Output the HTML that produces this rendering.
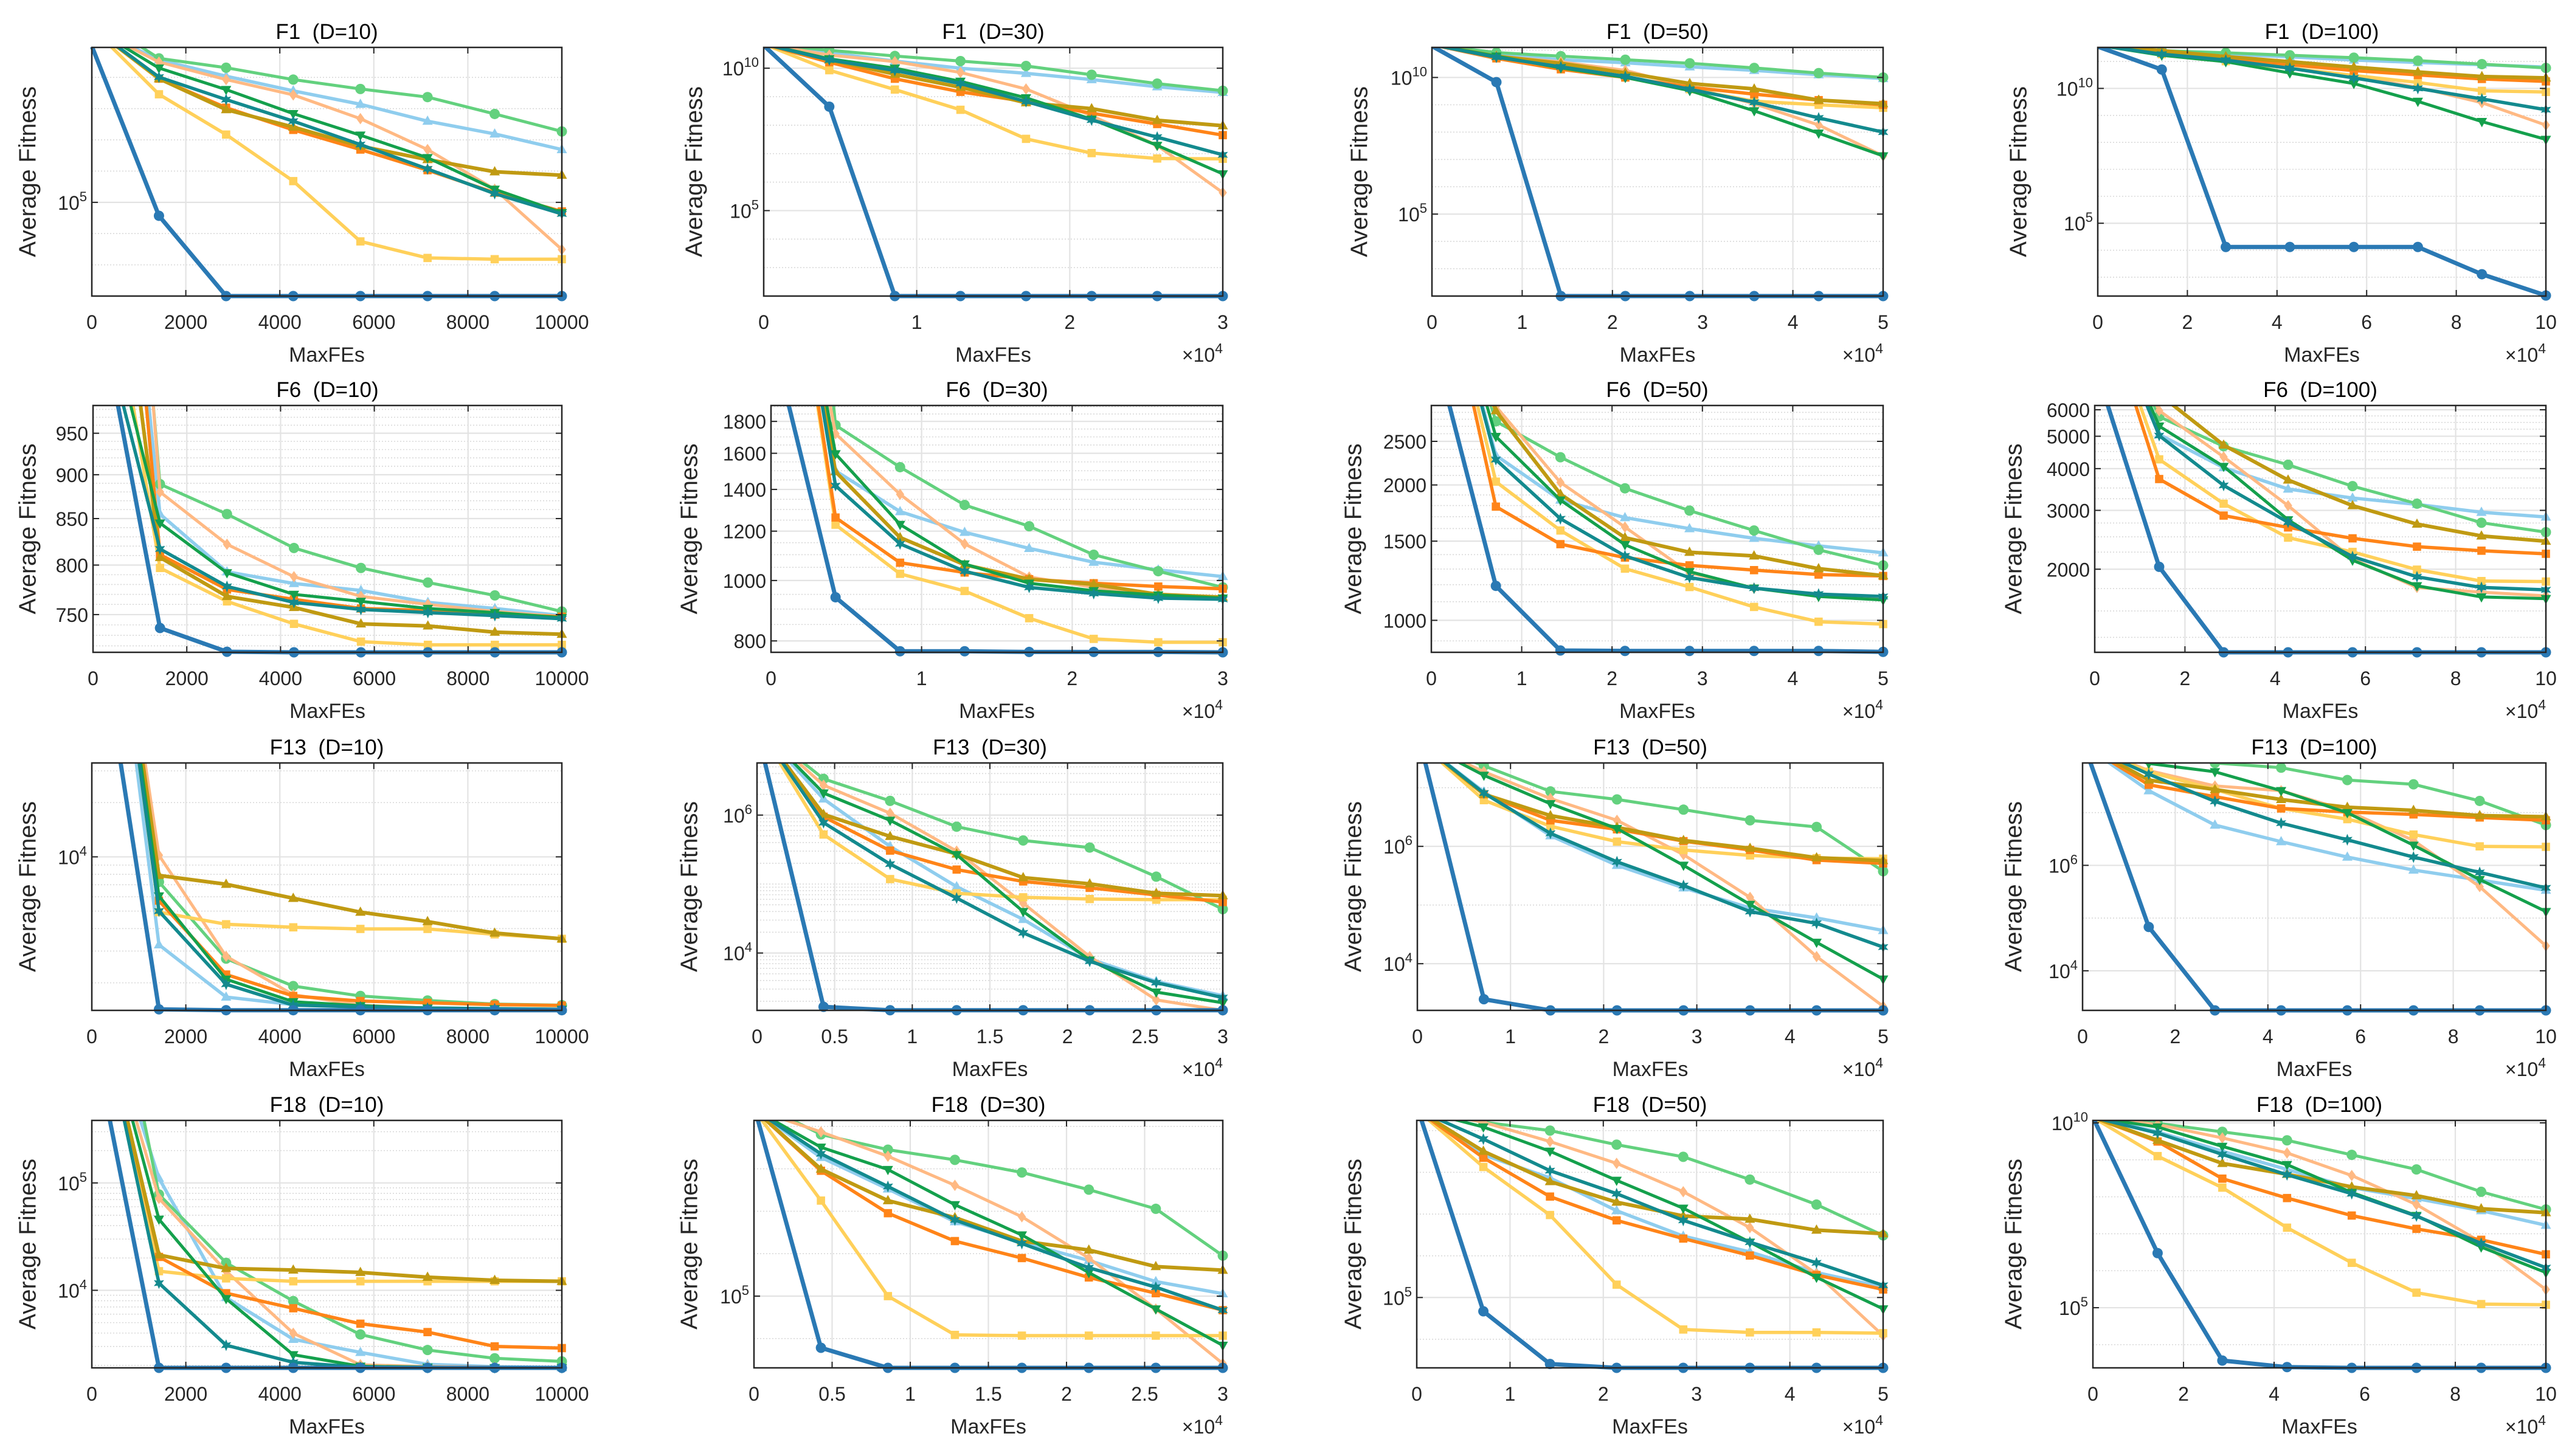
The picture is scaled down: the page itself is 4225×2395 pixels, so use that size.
<!DOCTYPE html>
<html><head><meta charset="utf-8"><title>Convergence curves</title>
<style>
html,body{margin:0;padding:0;background:#fff;}
svg{display:block;font-family:"Liberation Sans",Arial,sans-serif;}
</style></head>
<body>
<svg id="fig" xmlns="http://www.w3.org/2000/svg" width="4225" height="2395" viewBox="0 0 4225 2395">
<rect x="0" y="0" width="4225" height="2395" fill="#ffffff"/>
</svg>
<script>
// ---------- chart data ----------
const panelTitles = ["F1  (D=10)","F1  (D=30)","F1  (D=50)","F1  (D=100)",
 "F6  (D=10)","F6  (D=30)","F6  (D=50)","F6  (D=100)",
 "F13  (D=10)","F13  (D=30)","F13  (D=50)","F13  (D=100)",
 "F18  (D=10)","F18  (D=30)","F18  (D=50)","F18  (D=100)"];
const seriesNames = ["s1-blue","s2-orange","s3-yellow","s4-peach","s5-lightgreen","s6-lightblue","s7-gold","s8-green","s9-teal"];
const xMaxByCol = [10000, 30000, 50000, 100000];
const colXTickLabels1 = ["0","2000","4000","6000","8000","10000"];
const colXTickValues1 = [0,2000,4000,6000,8000,10000];
const xTicksD30Coarse = [0,1,2,3];
const xTicksD30Fine = [0,0.5,1,1.5,2,2.5,3];
const xTicksD50 = [0,1,2,3,4,5];
const xTicksD100 = [0,2,4,6,8,10];
const yLimsF1 = [[2,9.96],[2,10.73],[2,11.1],[2.3,11.52]];
const yLimsF6 = [[714,985],[767,1909],[849,3004],[1128,6180]];
const yLimsF13 = [[3.148,4.521],[3.168,6.756],[3.204,7.422],[3.249,7.942]];
const yLimsF18 = [[3.278,5.582],[3.31,9.14],[3.314,9.244],[3.373,10.066]];
const yTicksF1 = [[5,10],[5,10],[5,10],[5,10]];
const yTicksF6 = [[750,800,850,900,950],[800,1000,1200,1400,1600,1800],[1000,1500,2000,2500],[2000,3000,4000,5000,6000]];
const yTicksF13 = [[4],[4,6],[4,6],[4,6]];
const yTicksF18 = [[4,5],[5],[5],[5,10]];

const f1d10 = [
 [10.0,4.57,2,2,2,2,2,2],
 [10.6,8.96,8.03,7.32,6.69,6.03,5.31,4.71],
 [10.6,8.46,7.17,5.68,3.75,3.22,3.18,3.18],
 [10.6,9.49,8.93,8.44,7.68,6.69,5.42,3.49],
 [11.0,9.61,9.31,8.93,8.63,8.37,7.83,7.27],
 [10.6,9.56,9.04,8.57,8.14,7.60,7.19,6.69],
 [10.6,8.96,7.97,7.41,6.80,6.37,5.98,5.87],
 [10.6,9.30,8.61,7.84,7.15,6.43,5.42,4.67],
 [10.6,9.01,8.29,7.60,6.85,6.07,5.28,4.63]];
const f1d30 = [
 [10.8,8.65,2,2,2,2,2,2],
 [10.85,10.21,9.63,9.17,8.83,8.42,8.04,7.65],
 [10.85,9.93,9.25,8.54,7.52,7.02,6.83,6.82],
 [10.85,10.46,10.23,9.85,9.27,8.33,7.29,5.63],
 [10.85,10.63,10.43,10.25,10.08,9.77,9.46,9.21],
 [10.85,10.54,10.25,10.0,9.82,9.6,9.35,9.15],
 [10.85,10.29,9.79,9.33,8.79,8.58,8.17,7.98],
 [10.85,10.33,10.0,9.54,8.96,8.21,7.29,6.29],
 [10.85,10.29,9.92,9.46,8.83,8.18,7.58,6.96]];
const f1d50 = [
 [11.15,9.83,2,2,2,2,2,2],
 [11.2,10.70,10.30,10.0,9.65,9.39,9.17,9.0],
 [11.2,10.74,10.43,10.0,9.57,9.13,9.0,8.89],
 [11.2,10.78,10.57,10.26,9.65,9.04,8.26,7.13],
 [11.2,10.91,10.78,10.65,10.52,10.35,10.16,10.0],
 [11.2,10.83,10.65,10.54,10.39,10.26,10.10,9.96],
 [11.2,10.78,10.52,10.17,9.78,9.58,9.17,9.04],
 [11.2,10.78,10.35,10.0,9.52,8.78,7.96,7.13],
 [11.2,10.74,10.39,10.04,9.57,9.09,8.52,8.0]];
const f1d100 = [
 [11.55,10.70,4.12,4.12,4.12,4.12,3.11,2.32],
 [11.6,11.32,11.10,10.88,10.66,10.50,10.35,10.26],
 [11.6,11.27,11.01,10.75,10.48,10.22,9.91,9.87],
 [11.6,11.32,11.01,10.75,10.44,10.04,9.47,8.64],
 [11.6,11.40,11.32,11.23,11.14,11.03,10.90,10.76],
 [11.6,11.36,11.27,11.17,11.05,10.96,10.88,10.79],
 [11.6,11.40,11.18,10.99,10.79,10.61,10.44,10.39],
 [11.6,11.23,10.99,10.57,10.18,9.52,8.77,8.11],
 [11.6,11.27,11.05,10.75,10.39,10.0,9.61,9.21]];
const f6d10 = [
 [1170,737,714.5,714,714,714,714,714],
 [2100,811,775,765,756,754,750,748],
 [1350,797,763,741,724,721,721,721],
 [2700,880,822,788,768,760,753,748],
 [2500,889,855,818,797,782,769,753],
 [2000,855,793,781,774,762,756,749],
 [1600,808,768,757,741,739,733,731],
 [1200,845,792,770,763,756,752,747],
 [1150,817,778,762,755,752,749,746]];
const f6d30 = [
 [2500,940,770,770,768,768,768,767],
 [6000,1262,1068,1030,1005,990,978,970],
 [6000,1229,1025,962,870,806,796,796],
 [6000,1720,1375,1145,1013,975,950,937],
 [20000,1775,1520,1322,1222,1100,1035,975],
 [6000,1500,1290,1195,1126,1070,1040,1015],
 [6000,1495,1172,1060,1005,986,950,940],
 [6000,1597,1230,1063,990,963,948,937],
 [6000,1420,1145,1035,975,953,937,933]];
const f6d50 = [
 [4300,1193,857,855,855,855,855,851],
 [8000,1790,1477,1379,1325,1293,1264,1255],
 [8000,2034,1584,1303,1186,1071,993,981],
 [9000,2990,2026,1612,1275,1179,1137,1124],
 [8000,2770,2305,1966,1754,1584,1435,1325],
 [8000,2327,1851,1692,1599,1522,1464,1413],
 [8000,2925,1908,1527,1417,1391,1303,1257],
 [8000,2563,1851,1473,1283,1179,1130,1110],
 [8000,2277,1682,1391,1245,1179,1144,1130]];
const f6d100 = [
 [8200,2033,1128,1128,1128,1128,1128,1128],
 [15000,3723,2894,2667,2474,2336,2272,2224],
 [15000,4264,3141,2486,2253,1994,1843,1837],
 [15000,5963,4335,3100,2146,1764,1707,1665],
 [15000,5725,4666,4107,3545,3141,2755,2581],
 [15000,5063,4027,3475,3266,3126,2961,2866],
 [15000,6680,4705,3698,3100,2729,2515,2426],
 [15000,5362,4060,2810,2128,1784,1652,1633],
 [15000,5022,3562,2764,2181,1898,1764,1735]];
const f13d10 = [
 [5.55,3.154,3.149,3.149,3.149,3.149,3.149,3.149],
 [6.5,3.757,3.347,3.228,3.2,3.19,3.18,3.175],
 [6.5,3.693,3.626,3.609,3.6,3.6,3.57,3.545],
 [6.5,4.009,3.448,3.235,3.177,3.161,3.157,3.154],
 [6.5,3.861,3.435,3.283,3.228,3.203,3.183,3.177],
 [6.5,3.512,3.222,3.18,3.168,3.161,3.157,3.154],
 [6.5,3.897,3.848,3.770,3.693,3.641,3.577,3.545],
 [6.5,3.783,3.321,3.196,3.174,3.161,3.157,3.154],
 [6.5,3.699,3.293,3.177,3.168,3.161,3.157,3.154]];
const f13d30 = [
 [7.24,3.22,3.17,3.17,3.17,3.17,3.17,3.17],
 [7.3,5.976,5.485,5.210,5.038,4.945,4.842,4.739],
 [7.3,5.718,5.072,4.866,4.808,4.783,4.773,4.773],
 [7.3,6.433,6.027,5.478,4.722,3.948,3.320,3.168],
 [7.3,6.526,6.206,5.832,5.632,5.529,5.107,4.636],
 [7.3,6.234,5.546,4.962,4.488,3.914,3.588,3.381],
 [7.3,6.01,5.691,5.436,5.093,5.003,4.866,4.832],
 [7.3,6.320,5.924,5.426,4.601,3.897,3.433,3.278],
 [7.3,5.890,5.289,4.797,4.292,3.88,3.570,3.354]];
const f13d50 = [
 [7.97,3.394,3.204,3.204,3.204,3.204,3.204,3.204],
 [7.8,6.889,6.444,6.291,6.089,5.939,5.766,5.709],
 [7.8,6.788,6.343,6.081,5.939,5.846,5.798,5.790],
 [7.8,7.273,6.816,6.444,5.859,5.131,4.121,3.273],
 [7.8,7.374,6.937,6.80,6.626,6.444,6.331,5.576],
 [7.8,6.929,6.182,5.677,5.293,4.95,4.780,4.566],
 [7.8,6.889,6.525,6.323,6.101,5.968,5.806,5.758],
 [7.8,7.212,6.727,6.303,5.677,5.01,4.364,3.737],
 [7.8,6.909,6.222,5.737,5.333,4.889,4.687,4.283]];
const f13d100 = [
 [8.37,4.831,3.249,3.249,3.249,3.249,3.249,3.249],
 [8.3,7.528,7.303,7.079,7.011,6.966,6.908,6.854],
 [8.3,7.775,7.438,7.079,6.876,6.584,6.360,6.351],
 [8.3,7.798,7.506,7.416,7.034,6.472,5.596,4.472],
 [8.5,8.16,7.942,7.852,7.618,7.537,7.222,6.764],
 [8.3,7.416,6.764,6.449,6.157,5.910,5.721,5.528],
 [8.3,7.618,7.438,7.249,7.101,7.043,6.944,6.921],
 [8.3,7.933,7.775,7.416,6.998,6.382,5.730,5.124],
 [8.3,7.730,7.213,6.8,6.485,6.157,5.865,5.573]];
const f18d10 = [
 [6.43,3.278,3.278,3.278,3.278,3.278,3.278,3.278],
 [7,4.311,3.973,3.833,3.689,3.611,3.478,3.462],
 [7,4.178,4.111,4.084,4.084,4.084,4.084,4.084],
 [7,4.856,4.178,3.6,3.307,3.29,3.285,3.28],
 [8,4.893,4.256,3.9,3.589,3.444,3.367,3.338],
 [7,5.044,3.933,3.544,3.422,3.311,3.289,3.28],
 [7,4.329,4.204,4.189,4.167,4.122,4.093,4.084],
 [7,4.662,3.922,3.4,3.293,3.285,3.28,3.28],
 [7,4.067,3.489,3.329,3.284,3.28,3.28,3.28]];
const f18d30 = [
 [9.48,3.783,3.31,3.31,3.31,3.31,3.31,3.31],
 [9.4,7.954,6.954,6.297,5.897,5.44,5.069,4.669],
 [9.4,7.251,5.0,4.086,4.069,4.069,4.069,4.069],
 [9.4,8.869,8.297,7.611,6.869,5.897,4.697,3.411],
 [9.6,8.811,8.451,8.211,7.914,7.509,7.057,5.954],
 [9.4,8.269,7.526,6.754,6.269,5.84,5.343,5.057],
 [9.4,7.994,7.251,6.851,6.297,6.086,5.697,5.611],
 [9.4,8.509,7.983,7.154,6.44,5.554,4.697,3.84],
 [9.4,8.354,7.583,6.794,6.24,5.669,5.211,4.669]];
const f18d50 = [
 [9.6,4.669,3.407,3.314,3.314,3.314,3.314,3.314],
 [9.5,8.349,7.419,6.849,6.413,6.006,5.541,5.192],
 [9.5,8.128,6.977,5.308,4.233,4.163,4.163,4.145],
 [9.5,9.2,8.738,8.215,7.535,6.674,5.57,4.087],
 [9.5,9.203,9.0,8.663,8.372,7.826,7.227,6.488],
 [9.5,8.419,7.866,7.081,6.471,6.093,5.599,5.25],
 [9.5,8.506,7.779,7.285,6.953,6.878,6.616,6.529],
 [9.5,9.087,8.506,7.808,7.14,6.326,5.483,4.727],
 [9.5,8.797,8.041,7.488,6.849,6.326,5.831,5.291]];
const f18d100 = [
 [10.15,6.476,3.570,3.393,3.373,3.373,3.373,3.373],
 [10.15,9.495,8.491,7.966,7.493,7.133,6.837,6.444],
 [10.15,9.101,8.248,7.165,6.214,5.407,5.098,5.079],
 [10.15,9.954,9.593,9.186,8.576,7.789,6.772,5.492],
 [10.15,9.987,9.757,9.528,9.134,8.74,8.136,7.657],
 [10.15,9.757,9.232,8.74,8.248,7.953,7.625,7.231],
 [10.15,9.528,8.904,8.609,8.268,8.031,7.677,7.572],
 [10.15,9.888,9.364,8.871,8.117,7.493,6.640,5.951],
 [10.15,9.724,9.147,8.596,8.084,7.480,6.739,6.083]];

// ---------- rendering ----------
const NS = "http://www.w3.org/2000/svg";
const svg = document.getElementById("fig");
const colors = ["#2a79b4","#ff8418","#ffd05a","#ffb983","#63d17e","#8fcdee","#c09a12","#14a04c","#138a8e"];
const markers = ["circle","square","square","diamond","circle","triup","triup","tridown","hex"];
const widths = [7,5.5,5.5,5,5,5.5,6,5,5.5];
const drawOrder = [5,4,3,2,1,6,7,8,0];
const rowTops = [78,667,1255,1843], rowBottoms = [487,1073,1662,2250];
const colRights = [924,2011,3097,4187];
const lefts = [[151,1256,2355,3450],[153,1268,2354,3445],[151,1245,2331,3425],[151,1240,2330,3442]];
const ylabelXs = [[46,1142,2236,3320],[46,1134,2226,3312],[46,1134,2226,3312],[46,1134,2226,3312]];

function el(tag, attrs, parent){
  const e = document.createElementNS(NS, tag);
  for (const k in attrs) e.setAttribute(k, attrs[k]);
  (parent||svg).appendChild(e);
  return e;
}
function markerPath(type, x, y, s){
  if(type==="square") return `M${x-s*0.8},${y-s*0.8}h${s*1.6}v${s*1.6}h${-s*1.6}z`;
  if(type==="diamond") return `M${x},${y-s*1.1}L${x+s*0.8},${y}L${x},${y+s*1.1}L${x-s*0.8},${y}z`;
  if(type==="triup") return `M${x},${y-s*1.1}L${x+s},${y+s*0.7}L${x-s},${y+s*0.7}z`;
  if(type==="tridown") return `M${x},${y+s*1.1}L${x+s},${y-s*0.7}L${x-s},${y-s*0.7}z`;
  if(type==="hex"){ let d=""; for(let i=0;i<12;i++){const r=i%2?s*0.55:s*1.15;const a=Math.PI/2+i*Math.PI/6;d+=(i?"L":"M")+(x+r*Math.cos(a)).toFixed(1)+","+(y-r*Math.sin(a)).toFixed(1);} return d+"z"; }
  return null;
}

const allData = [f1d10,f1d30,f1d50,f1d100,f6d10,f6d30,f6d50,f6d100,f13d10,f13d30,f13d50,f13d100,f18d10,f18d30,f18d50,f18d100];
const allLims = [...yLimsF1, ...yLimsF6, ...yLimsF13, ...yLimsF18];
const allYTicks = [...yTicksF1, ...yTicksF6, ...yTicksF13, ...yTicksF18];

for (let p=0;p<16;p++){
  const row = Math.floor(p/4), col = p%4;
  const isRaw = (row===1);
  const L = lefts[row][col], R = colRights[col], T = rowTops[row], B = rowBottoms[row];
  const lim = allLims[p];
  const lo = isRaw ? Math.log10(lim[0]) : lim[0];
  const hi = isRaw ? Math.log10(lim[1]) : lim[1];
  const xMax = xMaxByCol[col];
  const sx = v => L + v/xMax*(R-L);
  const sy = lv => B - (lv-lo)/(hi-lo)*(B-T);

  const g = el("g", {});
  
  

  const minorG = el("g", {stroke:"#d9d9d9","stroke-width":1.6,"stroke-dasharray":"2,3"}, g);
  
  
  const minorVals = [];
  if (isRaw){
    const step = [10,50,100,250][col];
    for (let v=Math.ceil(lim[0]/step)*step; v<=lim[1]; v+=step) minorVals.push(Math.log10(v));
  } else {
    const span = hi-lo;
    for (let d=Math.floor(lo); d<=Math.ceil(hi); d++){
      if (span>4.2){ minorVals.push(d); }
      else { for (let m=1;m<10;m++) minorVals.push(d+Math.log10(m)); }
    }
  }
  minorVals.forEach(lv=>{ if(lv>lo && lv<hi){ el("line",{x1:L,x2:R,y1:sy(lv),y2:sy(lv)},minorG); }});

  let xTicks, xLabels, mult = col>0;
  if (col===0){ xTicks = colXTickValues1; xLabels = colXTickLabels1; }
  else if (col===1){ const a = row<2 ? xTicksD30Coarse : xTicksD30Fine; xTicks = a.map(v=>v*1e4); xLabels = a.map(String); }
  else if (col===2){ xTicks = xTicksD50.map(v=>v*1e4); xLabels = xTicksD50.map(String); }
  else { xTicks = xTicksD100.map(v=>v*1e4); xLabels = xTicksD100.map(String); }

  const majorG = el("g", {stroke:"#e3e3e3","stroke-width":2.2}, g);
  
  
  xTicks.forEach(v=>{ if(v>0 && v<xMax) el("line",{x1:sx(v),x2:sx(v),y1:T,y2:B},majorG); });
  const yt = allYTicks[p];
  yt.forEach(t=>{ const lv = isRaw ? Math.log10(t) : t; if(lv>lo && lv<hi) el("line",{x1:L,x2:R,y1:sy(lv),y2:sy(lv)},majorG); });

  const clipId = "clip"+p;
  const cp = el("clipPath",{id:clipId}, g);
  el("rect",{x:L-12,y:T,width:R-L+26,height:B-T+14},cp);
  const sg = el("g",{"clip-path":`url(#${clipId})`}, g);
  
  
  const data = allData[p];
  drawOrder.forEach(si=>{
    const vals = data[si];
    const pts = vals.map((v,k)=>[sx(k/7*xMax), sy(isRaw?Math.log10(v):v)]);
    const line = el("polyline",{points:pts.map(q=>q[0].toFixed(1)+","+q[1].toFixed(1)).join(" "),fill:"none",stroke:colors[si],"stroke-width":widths[si],"stroke-linejoin":"round"}, sg);
    
    
    for (let k=1;k<pts.length;k++){
      const [x,y] = pts[k];
      if (y < T-4) continue;
      const s = 8.5;
      let m;
      if (markers[si]==="circle") m = el("circle",{cx:x,cy:y,r:s,fill:colors[si]}, sg);
      else m = el("path",{d:markerPath(markers[si],x,y,s),fill:colors[si]}, sg);
      
      
    }
  });

  const box = el("rect",{x:L,y:T,width:R-L,height:B-T,fill:"none",stroke:"#262626","stroke-width":2.5}, g);
  
  
  const tg = el("g",{stroke:"#262626","stroke-width":2}, g);
  xTicks.forEach(v=>{ const x=sx(v); el("line",{x1:x,x2:x,y1:B,y2:B-10},tg); el("line",{x1:x,x2:x,y1:T,y2:T+10},tg); });
  yt.forEach(t=>{ const lv = isRaw ? Math.log10(t) : t; if(lv>=lo && lv<=hi){ const y=sy(lv); el("line",{x1:L,x2:L+10,y1:y,y2:y},tg); el("line",{x1:R,x2:R-10,y1:y,y2:y},tg);} });

  xTicks.forEach((v,i)=>{
    const t = el("text",{x:sx(v),y:B+54,"text-anchor":"middle","font-size":32,fill:"#262626"}, g);
    t.textContent = xLabels[i];
    
    
  });
  yt.forEach(tv=>{
    const lv = isRaw ? Math.log10(tv) : tv;
    if (lv<lo-0.001 || lv>hi+0.02) return;
    const y = sy(lv);
    const t = el("text",{x:L-8,y:y+12,"text-anchor":"end","font-size":32,fill:"#262626"}, g);
    if (isRaw){ t.textContent = String(tv); }
    else {
      t.appendChild(document.createTextNode("10"));
      const sup = el("tspan",{dy:-14,"font-size":22}, t);
      sup.textContent = String(tv);
    }
    
    
  });
  if (mult){
    const t = el("text",{x:R,y:B+108,"text-anchor":"end","font-size":32,fill:"#262626"}, g);
    t.appendChild(document.createTextNode("\u00d710"));
    const sup = el("tspan",{dy:-14,"font-size":23}, t);
    sup.textContent = "4";
    
    
  }
  const xl = el("text",{x:(L+R)/2,y:B+108,"text-anchor":"middle","font-size":34,fill:"#262626"}, g);
  xl.textContent = "MaxFEs";
  
  
  const yx = ylabelXs[row][col], yc = (T+B)/2;
  const yl = el("text",{x:yx,y:yc,"text-anchor":"middle","dominant-baseline":"central","font-size":39,fill:"#262626",transform:`rotate(-90 ${yx} ${yc})`}, g);
  yl.textContent = "Average Fitness";
  
  
  const ti = el("text",{x:(L+R)/2,y:T-14,"text-anchor":"middle","font-size":35,fill:"#000000"}, g);
  ti.textContent = panelTitles[p].replace("  ","\u00a0\u00a0");
  
  
}
</script>
</body></html>
